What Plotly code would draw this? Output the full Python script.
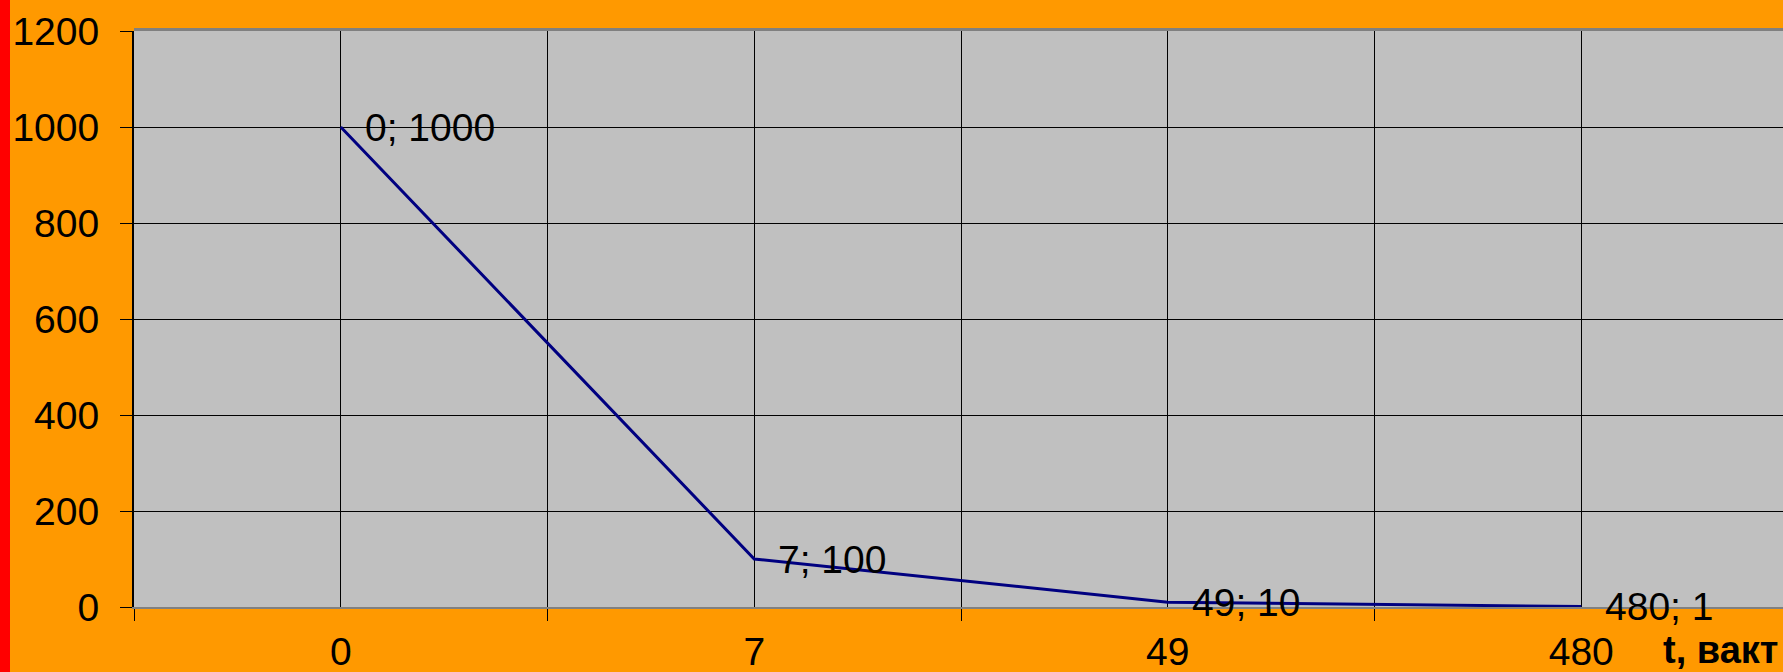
import plotly.graph_objects as go

categories = ["0", "7", "49", "480"]
values = [1000, 100, 10, 1]
point_labels = ["0; 1000", "7; 100", "49; 10", "480; 1"]
y_ticks = [0, 200, 400, 600, 800, 1000, 1200]
x_title = "t, вакт"

W, H = 1783, 672
ML, MR, MT, MB = 134, 0, 31, 65
PW = W - ML - MR
PH = H - MT - MB

xpos = list(range(len(categories)))
FONT = "Liberation Sans, Arial, sans-serif"

fig = go.Figure()
fig.add_trace(go.Scatter(
    x=xpos, y=values, mode="lines",
    line=dict(color="#000080", width=3),
    hoverinfo="skip", showlegend=False, cliponaxis=False,
))

for xi, yv, lab in zip(xpos, values, point_labels):
    fig.add_annotation(x=xi, y=yv, text=lab, showarrow=False,
                       xanchor="left", yanchor="middle", xshift=22,
                       font=dict(family=FONT, size=39, color="black"))

boundaries = [i - 0.5 for i in range(len(categories) + 1)]
cat_w = 413.5
right = -0.5 + PW / cat_w

fig.update_xaxes(
    range=[-0.5, right], tickmode="array", tickvals=xpos, ticktext=categories,
    ticks="", showgrid=True, gridcolor="black", gridwidth=1, zeroline=False,
    showline=True, linecolor="#808080", linewidth=2, automargin=False,
    tickfont=dict(family=FONT, size=39, color="black"),
    ticklabelstandoff=9,
    minor=dict(tickvals=boundaries, ticks="outside", ticklen=12, tickcolor="black",
               tickwidth=1, showgrid=True, gridcolor="black", gridwidth=1),
)
fig.update_yaxes(
    range=[0, 1200], tickmode="array", tickvals=y_ticks,
    ticks="outside", ticklen=12, tickcolor="black", tickwidth=1,
    showgrid=True, gridcolor="black", gridwidth=1, zeroline=False,
    showline=True, linecolor="black", linewidth=2, automargin=False,
    tickfont=dict(family=FONT, size=39, color="black"),
    ticklabelstandoff=13,
)

# red strip at left edge
fig.add_shape(type="rect", xref="paper", yref="paper",
              x0=-ML / PW, x1=(10 - ML) / PW, y0=-MB / PH, y1=1 + MT / PH,
              fillcolor="#FF0000", line=dict(width=0), layer="above")
# grey top border of plot area
fig.add_shape(type="line", xref="paper", yref="paper",
              x0=0, x1=1, y0=1 + 1.5 / PH, y1=1 + 1.5 / PH,
              line=dict(color="#808080", width=3), layer="above")

fig.add_annotation(xref="paper", yref="paper", x=1, y=0, yshift=-MB,
                   xanchor="right", yanchor="bottom", xshift=-4, showarrow=False,
                   borderpad=0,
                   text="<b>" + x_title + "</b>",
                   font=dict(family=FONT, size=38, color="black"))

fig.update_layout(
    width=W, height=H,
    margin=dict(l=ML, r=MR, t=MT, b=MB, pad=0, autoexpand=False),
    paper_bgcolor="#FF9900", plot_bgcolor="#C0C0C0",
    showlegend=False,
)

fig.write_html("out.html", config={"displayModeBar": False},
               post_script="document.body.style.margin='0';document.body.style.overflow='hidden';")
